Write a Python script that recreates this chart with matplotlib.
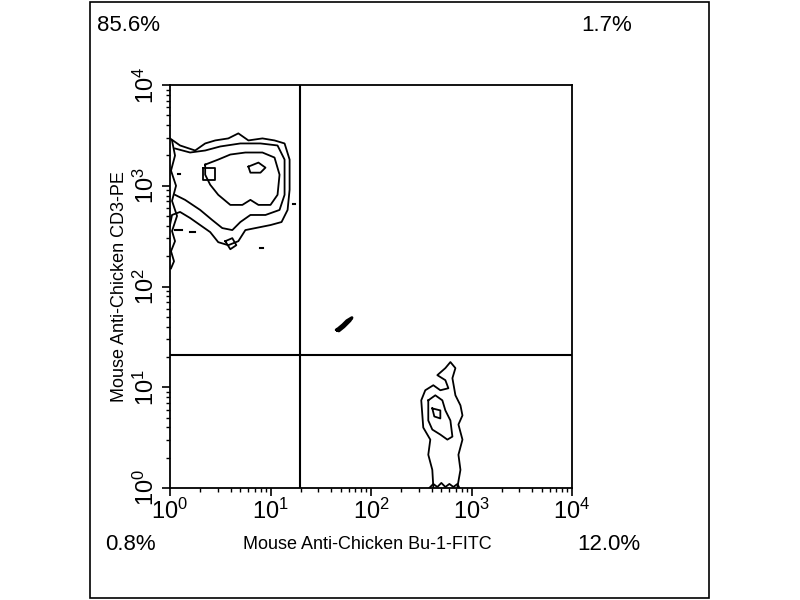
import numpy as np
import matplotlib.pyplot as plt
from matplotlib.patches import Rectangle

plt.rcParams['font.family'] = ['Liberation Sans', 'DejaVu Sans']
plt.rcParams['mathtext.fontset'] = 'custom'
plt.rcParams['mathtext.rm'] = 'Liberation Sans'
plt.rcParams['mathtext.default'] = 'regular'

# quadrant gates (linear units)
gate_x = 19.5
gate_y = 21.0

# quadrant percentages
pct_ul = "85.6%"
pct_ur = "1.7%"
pct_ll = "0.8%"
pct_lr = "12.0%"

x_label = "Mouse Anti-Chicken Bu-1-FITC"
y_label = "Mouse Anti-Chicken CD3-PE"

# contour lines as log10 decades (x, y)
cd3_outer_x = [0.00, 0.10, 0.25, 0.35, 0.45, 0.58, 0.68, 0.78, 0.92, 1.04, 1.14, 1.19, 1.19, 1.17, 1.11, 1.00, 0.85, 0.75, 0.68, 0.58, 0.48, 0.40, 0.30, 0.20, 0.10, 0.02, 0.00]
cd3_outer_y = [3.47, 3.40, 3.35, 3.42, 3.45, 3.47, 3.52, 3.45, 3.47, 3.45, 3.42, 3.26, 2.96, 2.76, 2.64, 2.61, 2.58, 2.56, 2.45, 2.41, 2.44, 2.54, 2.61, 2.68, 2.74, 2.71, 2.61]
cd3_mid_x = [0.05, 0.20, 0.35, 0.50, 0.70, 0.90, 1.07, 1.14, 1.14, 1.09, 0.95, 0.80, 0.70, 0.62, 0.52, 0.42, 0.30, 0.15, 0.05]
cd3_mid_y = [3.37, 3.33, 3.35, 3.39, 3.42, 3.42, 3.40, 3.26, 2.91, 2.76, 2.71, 2.71, 2.64, 2.56, 2.58, 2.66, 2.76, 2.86, 2.91]
cd3_in_x = [0.35, 0.48, 0.60, 0.75, 0.92, 1.04, 1.09, 1.07, 1.00, 0.88, 0.80, 0.72, 0.60, 0.48, 0.40, 0.35, 0.35]
cd3_in_y = [3.21, 3.26, 3.31, 3.33, 3.33, 3.28, 3.11, 2.91, 2.81, 2.81, 2.86, 2.81, 2.81, 2.91, 3.01, 3.11, 3.21]
cd3_peak_x = [0.78, 0.88, 0.95, 0.90, 0.80, 0.78]
cd3_peak_y = [3.19, 3.23, 3.18, 3.13, 3.13, 3.19]
cd3_peak2_x = [0.33, 0.45, 0.45, 0.33, 0.33]
cd3_peak2_y = [3.18, 3.18, 3.06, 3.06, 3.18]
cd3_edge_x = [0.02, 0.05, 0.01, 0.06, 0.02, 0.07, 0.02, 0.05, 0.01, 0.04, 0.01]
cd3_edge_y = [3.45, 3.30, 3.15, 3.00, 2.85, 2.70, 2.55, 2.45, 2.35, 2.25, 2.18]
cd3_loop_x = [0.55, 0.62, 0.66, 0.60, 0.55]
cd3_loop_y = [2.45, 2.48, 2.41, 2.37, 2.45]
cd3_dash_x = [[0.05, 0.12], [0.20, 0.25], [0.08, 0.10], [0.90, 0.93], [1.22, 1.24]]
cd3_dash_y = [[2.56, 2.56], [2.54, 2.54], [3.12, 3.12], [2.38, 2.38], [2.82, 2.82]]

bu1_outer_x = [2.62, 2.61, 2.57, 2.59, 2.52, 2.50, 2.54, 2.62, 2.69, 2.77, 2.74, 2.66, 2.74, 2.79, 2.84, 2.81, 2.84, 2.89, 2.91, 2.87, 2.91, 2.87, 2.89, 2.86]
bu1_outer_y = [0.01, 0.18, 0.33, 0.48, 0.60, 0.87, 0.97, 1.02, 0.97, 0.99, 1.07, 1.12, 1.19, 1.25, 1.19, 1.09, 0.92, 0.82, 0.72, 0.63, 0.48, 0.33, 0.18, 0.01]
bu1_in_x = [2.57, 2.64, 2.71, 2.74, 2.79, 2.81, 2.76, 2.69, 2.61, 2.57, 2.57]
bu1_in_y = [0.87, 0.92, 0.87, 0.77, 0.67, 0.51, 0.48, 0.53, 0.58, 0.67, 0.87]
bu1_peak_x = [2.61, 2.69, 2.69, 2.63, 2.61]
bu1_peak_y = [0.79, 0.77, 0.69, 0.71, 0.79]
bu1_base_x = [2.58, 2.62, 2.66, 2.70, 2.74, 2.78, 2.82, 2.86, 2.88]
bu1_base_y = [0.00, 0.04, 0.01, 0.05, 0.01, 0.04, 0.01, 0.04, 0.00]

dp_x = [1.66, 1.72, 1.76, 1.81, 1.79, 1.73, 1.68, 1.66]
dp_y = [1.57, 1.62, 1.66, 1.69, 1.66, 1.60, 1.56, 1.57]

fig = plt.figure(figsize=(8, 6), dpi=100)
fig.patches.append(Rectangle((0.113, 0.004), 0.773, 0.993, transform=fig.transFigure,
                             fill=False, edgecolor='black', linewidth=1.2))

ax = fig.add_axes([0.2125, 0.1867, 0.5025, 0.6716])
ax.set_xscale('log')
ax.set_yscale('log')
ax.set_xlim(1, 1e4)
ax.set_ylim(1, 1e4)

lines = [(cd3_outer_x, cd3_outer_y), (cd3_mid_x, cd3_mid_y), (cd3_in_x, cd3_in_y),
         (cd3_peak_x, cd3_peak_y), (cd3_peak2_x, cd3_peak2_y), (cd3_edge_x, cd3_edge_y),
         (cd3_loop_x, cd3_loop_y),
         (bu1_outer_x, bu1_outer_y), (bu1_in_x, bu1_in_y), (bu1_peak_x, bu1_peak_y),
         (bu1_base_x, bu1_base_y)]
for lx, ly in lines:
    ax.plot(10 ** np.array(lx), 10 ** np.array(ly), color='black', linewidth=1.3)
for lx, ly in zip(cd3_dash_x, cd3_dash_y):
    ax.plot(10 ** np.array(lx), 10 ** np.array(ly), color='black', linewidth=1.5)
ax.plot(10 ** np.array(dp_x), 10 ** np.array(dp_y), color='black', linewidth=2.2)

ax.axvline(gate_x, color='black', linewidth=1.5)
ax.axhline(gate_y, color='black', linewidth=1.5)

for s in ax.spines.values():
    s.set_linewidth(1.3)
ax.tick_params(which='major', direction='out', length=6, width=1.2, labelsize=17, pad=2)
ax.tick_params(which='minor', direction='out', length=3, width=1.0)
for lab in ax.get_yticklabels():
    lab.set_rotation(90)
    lab.set_va('center')
ax.set_xticks([1, 10, 100, 1000, 10000])
ax.set_yticks([1, 10, 100, 1000, 10000])
ax.set_xticklabels([r'$10^{%d}$' % i for i in range(5)])
ax.set_yticklabels([r'$10^{%d}$' % i for i in range(5)], rotation=90, va='center')

ax.set_ylabel(y_label, fontsize=13, labelpad=4)

fig.text(0.121, 0.958, pct_ul, fontsize=16, ha='left', va='center')
fig.text(0.790, 0.958, pct_ur, fontsize=16, ha='right', va='center')
fig.text(0.131, 0.092, pct_ll, fontsize=16, ha='left', va='center')
fig.text(0.800, 0.092, pct_lr, fontsize=16, ha='right', va='center')
fig.text(0.459, 0.092, x_label, fontsize=13, ha='center', va='center')

plt.savefig('out.png', dpi=100)
